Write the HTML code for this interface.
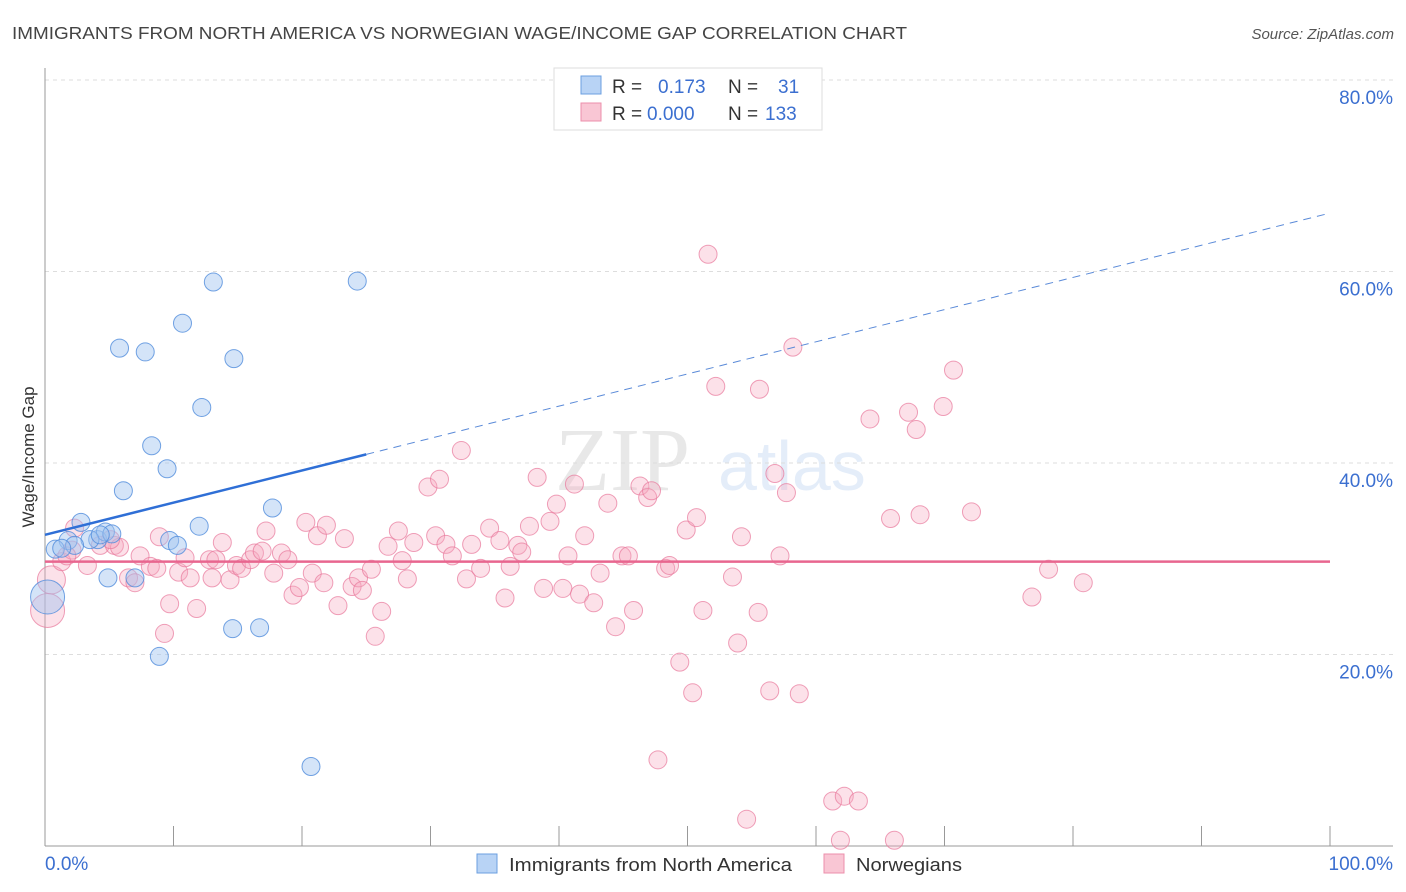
<!DOCTYPE html>
<html><head><meta charset="utf-8"><style>
body{margin:0;background:#fff;font-family:"Liberation Sans",sans-serif}
svg{display:block}
</style></head><body>
<svg id="chart" width="1406" height="892" viewBox="0 0 1406 892" xmlns="http://www.w3.org/2000/svg">
<text x="12" y="39" font-size="17.5" fill="#444" textLength="895" lengthAdjust="spacingAndGlyphs">IMMIGRANTS FROM NORTH AMERICA VS NORWEGIAN WAGE/INCOME GAP CORRELATION CHART</text>
<text x="1394" y="39" font-size="15" fill="#555" font-style="italic" text-anchor="end">Source: ZipAtlas.com</text>
<g opacity="0.13">
<text x="555" y="490" font-size="90" font-family="Liberation Serif, serif" fill="#555">ZIP</text>
<text x="718" y="490" font-size="70" fill="#3b7dd8">atlas</text>
</g>
<g id="grid"></g>
<g id="axes"></g>
<g id="marks"></g>
<g id="trends"></g>
<text transform="translate(34,457) rotate(-90)" font-size="17" fill="#333" text-anchor="middle">Wage/Income Gap</text>
<g>
<rect x="554" y="68" width="268" height="62" fill="#fff" stroke="#ddd"/>
<rect x="581" y="76" width="20" height="18" fill="#b8d3f5" stroke="#6b9fe0"/>
<rect x="581" y="103" width="20" height="18" fill="#f9c6d4" stroke="#ec8fab"/>
<text x="612" y="93" font-size="19" fill="#333">R = </text><text x="658" y="93" font-size="19" fill="#3b6fd0">0.173</text>
<text x="728" y="93" font-size="19" fill="#333">N = </text><text x="778" y="93" font-size="19" fill="#3b6fd0">31</text>
<text x="612" y="120" font-size="19" fill="#333">R = </text><text x="647" y="120" font-size="19" fill="#3b6fd0">0.000</text>
<text x="728" y="120" font-size="19" fill="#333">N = </text><text x="765" y="120" font-size="19" fill="#3b6fd0">133</text>
</g>
<g>
<rect x="477" y="854" width="20" height="19" fill="#b8d3f5" stroke="#6b9fe0"/>
<text x="509" y="871" font-size="18" fill="#333" textLength="283" lengthAdjust="spacingAndGlyphs">Immigrants from North America</text>
<rect x="824" y="854" width="20" height="19" fill="#f9c6d4" stroke="#ec8fab"/>
<text x="856" y="871" font-size="18" fill="#333" textLength="106" lengthAdjust="spacingAndGlyphs">Norwegians</text>
</g>
</svg>
<script>
const yTicks=[20,40,60,80];
const yTickLabels=["20.0%","40.0%","60.0%","80.0%"];
const xTicks=[0,10,20,30,40,50,60,70,80,90,100];
const xEndLabels=["0.0%","100.0%"];
const blueX=[2.8,1.8,0.8,4.1,4.7,5.2,4.9,6.1,5.8,7.8,8.3,9.5,10.7,13.1,12.2,14.7,9.7,10.3,12.0,14.6,16.7,8.9,17.7,20.7,24.3,0.2,3.5,2.3,7.0,1.3,4.3];
const blueY=[33.8,31.9,31.0,32.0,32.8,32.6,28.0,37.1,52.0,51.6,41.8,39.4,54.6,58.9,45.8,50.9,31.9,31.4,33.4,22.7,22.8,19.8,35.3,8.3,59.0,26.0,32.0,31.4,28.0,31.1,32.5];
const blueSize=[1,1,1,1,1,1,1,1,1,1,1,1,1,1,1,1,1,1,1,1,1,1,1,1,1,3,1,1,1,1,1];
const pinkX=[0.2,0.5,1.3,2.3,2.1,3.3,4.3,5.4,5.8,6.5,7.0,7.4,8.2,8.7,9.3,9.7,10.4,10.9,11.3,11.8,12.8,13.3,13.8,14.4,14.9,15.3,16.0,16.3,16.9,17.2,17.8,18.4,18.9,19.3,19.8,20.3,20.8,21.2,21.7,21.9,22.8,23.3,23.9,24.4,24.7,25.4,25.7,26.2,26.7,27.5,27.8,28.2,28.7,29.8,30.4,30.7,31.2,31.7,32.4,32.8,33.2,33.9,34.6,35.4,35.8,36.2,36.8,37.1,37.7,38.3,38.8,39.3,39.8,40.3,40.7,41.2,41.6,42.0,42.7,43.2,43.8,44.4,44.9,45.4,45.8,46.3,46.9,47.2,47.7,48.3,48.6,49.4,49.9,50.4,50.7,51.2,51.6,52.2,53.5,53.9,54.2,55.5,55.6,56.4,56.8,57.2,57.7,58.2,58.7,61.3,61.9,62.2,63.3,64.2,65.8,66.1,67.2,67.8,68.1,69.9,70.7,72.1,76.8,78.1,80.8,54.6,1.7,5.1,13.0,8.9];
const pinkY=[24.6,27.8,29.7,33.2,30.9,29.3,31.4,31.4,31.2,28.0,27.5,30.3,29.2,29.0,22.2,25.3,28.6,30.1,28.0,24.8,29.9,29.9,31.7,27.8,29.3,29.0,29.9,30.6,30.8,32.9,28.5,30.6,29.9,26.2,27.0,33.8,28.5,32.4,27.5,33.5,25.1,32.1,27.1,28.0,26.7,28.9,21.9,24.5,31.3,32.9,29.8,27.9,31.7,37.5,32.4,38.3,31.5,30.3,41.3,27.9,31.5,29.0,33.2,31.9,25.9,29.2,31.4,30.7,33.4,38.5,26.9,33.9,35.7,26.9,30.3,37.8,26.3,32.4,25.4,28.5,35.8,22.9,30.3,30.3,24.6,37.6,36.4,37.1,9.0,29.0,29.3,19.2,33.0,16.0,34.3,24.6,61.8,48.0,28.1,21.2,32.3,24.4,47.7,16.2,38.9,30.3,36.9,52.1,15.9,4.7,0.6,5.2,4.7,44.6,34.2,0.6,45.3,43.5,34.6,45.9,49.7,34.9,26.0,28.9,27.5,2.8,30.3,32.0,28.0,32.3];
const pinkSize=[3,2].concat(new Array(131).fill(1));
const blueTrend=[32.5,66.1];
const blueSolidEnd=25;
const pinkTrend=[29.7,29.7];

const NS="http://www.w3.org/2000/svg";
const X0=45,X1=1330,Y0=846,PXPCT=9.575;
const sx=v=>X0+(X1-X0)*v/100;
const sy=v=>Y0-v*PXPCT;
function mk(tag,attrs,parent){const e=document.createElementNS(NS,tag);for(const k in attrs)e.setAttribute(k,attrs[k]);parent.appendChild(e);return e;}
const grid=document.getElementById('grid'),axes=document.getElementById('axes'),marks=document.getElementById('marks'),trends=document.getElementById('trends');
yTicks.forEach((t,i)=>{
  const l=mk('line',{x1:X0,x2:1393,y1:sy(t),y2:sy(t),stroke:'#ddd','stroke-dasharray':'4,4'},grid);
  
  
  const tx=mk('text',{x:1393,y:sy(t)+24,'font-size':19,fill:'#3b6fd0','text-anchor':'end'},axes);
  tx.textContent=yTickLabels[i];
  
  
});
const ya=mk('line',{x1:X0,x2:X0,y1:68,y2:Y0,stroke:'#999'},axes);


const xa=mk('line',{x1:X0,x2:1393,y1:Y0,y2:Y0,stroke:'#999'},axes);


xTicks.forEach(t=>{
  const l=mk('line',{x1:sx(t),x2:sx(t),y1:826,y2:Y0,stroke:'#999'},axes);
  
  
});
const xl0=mk('text',{x:X0,y:870,'font-size':19,fill:'#3b6fd0'},axes);xl0.textContent=xEndLabels[0];


const xl1=mk('text',{x:1393,y:870,'font-size':19,fill:'#3b6fd0','text-anchor':'end'},axes);xl1.textContent=xEndLabels[1];


pinkX.forEach((v,i)=>{
  const c=mk('circle',{cx:sx(v),cy:sy(pinkY[i]),r:pinkSize[i]>1?8+pinkSize[i]*3:9,fill:'rgba(246,170,192,0.35)',stroke:'rgba(232,120,155,0.7)','stroke-width':1},marks);
  
  
});
blueX.forEach((v,i)=>{
  const c=mk('circle',{cx:sx(v),cy:sy(blueY[i]),r:blueSize[i]>1?8+blueSize[i]*3:9,fill:'rgba(160,196,240,0.45)',stroke:'rgba(80,140,220,0.8)','stroke-width':1},marks);
  
  
});
const bAt=x=>blueTrend[0]+(blueTrend[1]-blueTrend[0])*x/100;
const bs=mk('line',{x1:sx(0),y1:sy(bAt(0)),x2:sx(blueSolidEnd),y2:sy(bAt(blueSolidEnd)),stroke:'#2f6fd6','stroke-width':2.5},trends);


const bd=mk('line',{x1:sx(blueSolidEnd),y1:sy(bAt(blueSolidEnd)),x2:sx(100),y2:sy(bAt(100)),stroke:'#5a8ad8','stroke-width':1,'stroke-dasharray':'8,6'},trends);


const pt=mk('line',{x1:sx(0),y1:sy(pinkTrend[0]),x2:sx(100),y2:sy(pinkTrend[1]),stroke:'#e8668f','stroke-width':2.5},trends);


</script>
</body></html>
